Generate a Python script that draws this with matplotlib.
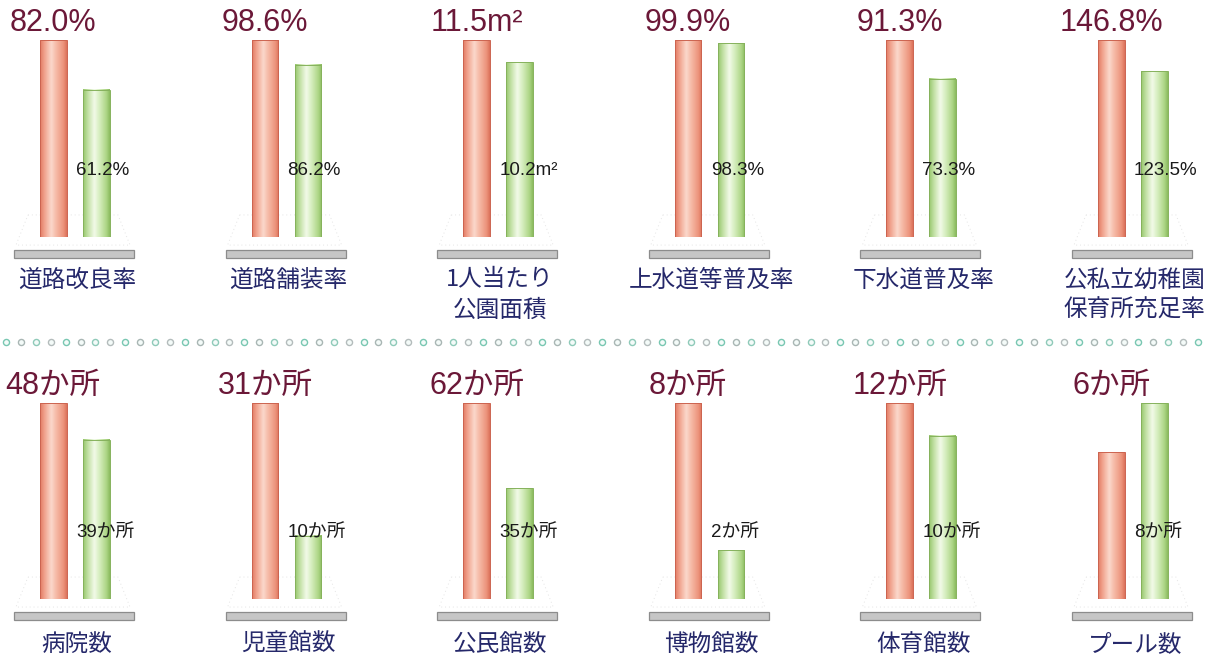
import numpy as np
import matplotlib
matplotlib.use("Agg")
import matplotlib.pyplot as plt
from matplotlib.patches import Rectangle, Polygon
from matplotlib.colors import LinearSegmentedColormap
from matplotlib import transforms

# ---- data -------------------------------------------------------------
top_categories = ["道路改良率", "道路舗装率", "1人当たり\n公園面積",
                  "上水道等普及率", "下水道普及率", "公私立幼稚園\n保育所充足率"]
top_red = [82.0, 98.6, 11.5, 99.9, 91.3, 146.8]
top_green = [61.2, 86.2, 10.2, 98.3, 73.3, 123.5]
top_units = ["%", "%", "m²", "%", "%", "%"]

bottom_categories = ["病院数", "児童館数", "公民館数", "博物館数", "体育館数", "プール数"]
bottom_red = [48, 31, 62, 8, 12, 6]
bottom_green = [39, 10, 35, 2, 10, 8]
bottom_units = ["か所"] * 6

# ---- styling ----------------------------------------------------------
W, H = 1210, 656
RED_VALUE_COLOR = "#6b1838"
LABEL_COLOR = "#25286a"
VALUE_FONT = ["Liberation Sans", "Noto Sans CJK JP"]
CJK_FONT = ["Noto Sans CJK JP", "DejaVu Sans"]

red_cmap = LinearSegmentedColormap.from_list(
    "redbar", [(0.0, "#e27a63"), (0.15, "#f0a08a"), (0.42, "#fbd8cb"),
               (0.6, "#f6bba8"), (0.88, "#ec937b"), (1.0, "#dc725b")])
green_cmap = LinearSegmentedColormap.from_list(
    "greenbar", [(0.0, "#96c66c"), (0.15, "#bcdd9c"), (0.42, "#f2fae8"),
                 (0.6, "#d8efc2"), (0.88, "#acd585"), (1.0, "#8cbc60")])
grad = np.linspace(0, 1, 64).reshape(1, -1)

fig = plt.figure(figsize=(W / 100, H / 100), dpi=100)
fig.patch.set_facecolor("white")


def px_axes(left, top, width, height):
    return fig.add_axes([left / W, 1 - (top + height) / H, width / W, height / H])


def draw_panel(k, row_bottom, row_height, red, green, unit, label, green_fmt,
               label_y):
    red_left = 40 + 211.6 * k
    ax = px_axes(red_left - 30, row_bottom - row_height, 150, row_height)
    ymax = max(red, green)
    ax.axis("off")

    bw = 26.5
    xs = [30 + bw / 2, 73 + bw / 2]
    bars = ax.bar(xs, [red, green], width=bw, color="none",
                  edgecolor=["#cc6450", "#86b25c"], linewidth=0.7, zorder=3)
    for bar, cmap in zip(bars, [red_cmap, green_cmap]):
        x0, w, h = bar.get_x(), bar.get_width(), bar.get_height()
        ax.imshow(grad, cmap=cmap, extent=(x0, x0 + w, 0, h),
                  aspect="auto", zorder=2, interpolation="bilinear")
    ax.set_xlim(0, 150)
    ax.set_ylim(0, ymax)

    bt = transforms.blended_transform_factory(ax.transData, ax.transAxes)
    # faint floor outline under the bars
    ax.add_patch(Polygon([(18, 0.112), (108, 0.112), (120, -0.041), (6, -0.041)],
                         closed=True, fill=False, edgecolor="#e4e4e4",
                         linestyle=(0, (1, 3)), linewidth=0.7,
                         transform=bt, clip_on=False, zorder=1))
    # grey plinth
    ax.add_patch(Rectangle((4, -0.107), 120, 0.039, transform=bt,
                           facecolor="#c6c6c6", edgecolor="#8c8c8c",
                           linewidth=0.9, clip_on=False, zorder=2))

    # value of the red bar on top
    red_txt = (f"{red:.1f}" if isinstance(red, float) else f"{red}") + unit
    ax.text(xs[0], 1.046, red_txt, transform=bt, ha="center", va="baseline",
            fontsize=22, color=RED_VALUE_COLOR, family=VALUE_FONT,
            clip_on=False, zorder=5)
    # value of the green bar inside it
    green_txt = green_fmt(green) + unit
    ax.text(73 - 7, 0.34, green_txt, transform=bt, ha="left", va="center",
            fontsize=13.5, color="#1a1a1a", family=VALUE_FONT,
            clip_on=False, zorder=5)
    # category label
    for i, line in enumerate(label.split("\n")):
        ax.text((xs[0] + xs[1]) / 2 + 2, label_y - 0.153 * i, line,
                transform=bt, ha="center", va="center", fontsize=17,
                color=LABEL_COLOR, family=CJK_FONT, clip_on=False, zorder=5)


for k in range(6):
    draw_panel(k, 237, 197, top_red[k], top_green[k], top_units[k],
               top_categories[k], lambda v: f"{v:.1f}", -0.218)
    draw_panel(k, 599, 196, bottom_red[k], bottom_green[k], bottom_units[k],
               bottom_categories[k], lambda v: f"{v}", -0.232)

# dotted separator between the two rows
sep = fig.add_axes([0, 0, 1, 1], zorder=-1)
sep.set_xlim(0, W)
sep.set_ylim(H, 0)
sep.axis("off")
dots_x = np.arange(6, W, 14.9)
edge_cols = ["#79c7b2", "#a9b6b4", "#8fcab9", "#b4bcbc"]
for i, x in enumerate(dots_x):
    sep.plot(x, 342, marker="o", markersize=4.4, markerfacecolor="#f4fbf9",
             markeredgecolor=edge_cols[i % len(edge_cols)], markeredgewidth=1.0)

fig.savefig("out.png", dpi=100, facecolor="white")
